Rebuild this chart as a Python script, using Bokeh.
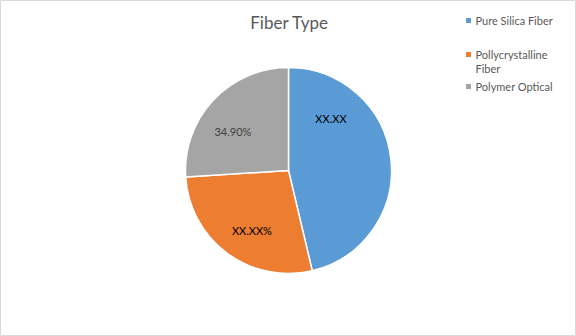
import numpy as np
from bokeh.plotting import figure
from bokeh.models import Range1d, ColumnDataSource
from bokeh.core.properties import value
from bokeh.embed import file_html
from bokeh.resources import INLINE

# ---- data ----
title_text = "Fiber Type"
categories = ["Pure Silica Fiber", "Pollycrystalline\nFiber", "Polymer Optical"]
shares = [46.3, 27.7, 26.0]
slice_labels = ["XX.XX", "XX.XX%", "34.90%"]
colors = ["#5B9BD5", "#ED7D31", "#A5A5A5"]
label_colors = ["#000000", "#000000", "#404040"]

# ---- layout ----
W, H = 576, 336
cx, cy_img, R = 288, 170, 103
label_r = [0.65, 0.68, 0.66]
label_shift_deg = [-44, -5, -8]
legend_rows_y = [20, 54, 86]
legend_marker_x, legend_text_x = 468, 475
FONT = "Lato"

def Y(y_img):
    return H - y_img

p = figure(width=W, height=H, output_backend="svg", toolbar_location=None,
           x_range=Range1d(0, W), y_range=Range1d(0, H), min_border=0)
p.axis.visible = False
p.grid.visible = False
p.outline_line_color = "#D9D9D9"
p.outline_line_width = 1
p.background_fill_color = "white"
p.border_fill_color = "white"

vals = np.array(shares, dtype=float)
frac = vals / vals.sum()
cum = np.concatenate([[0], np.cumsum(frac)])
# clockwise from 12 o'clock
start = np.pi / 2 - 2 * np.pi * cum[:-1]
end = np.pi / 2 - 2 * np.pi * cum[1:]

src = ColumnDataSource(dict(start=start, end=end, color=colors, cat=categories))
p.wedge(x=cx, y=Y(cy_img), radius=R, start_angle="start", end_angle="end",
        direction="clock", fill_color="color", line_color="white",
        line_width=1.5, source=src)

mid = np.pi / 2 - 2 * np.pi * (cum[:-1] + cum[1:]) / 2
lab_ang = mid - np.radians(label_shift_deg)
lx = cx + np.array(label_r) * R * np.cos(lab_ang)
ly = Y(cy_img) + np.array(label_r) * R * np.sin(lab_ang)
p.text(x=lx, y=ly, text=slice_labels, text_color=label_colors,
       text_align="center", text_baseline="middle",
       text_font=value(FONT), text_font_size="11px")

# title
p.text(x=[W / 2 + 1], y=[Y(22)], text=[title_text], text_color="#595959",
       text_align="center", text_baseline="middle",
       text_font=value(FONT), text_font_size="17px")

# legend
ly_leg = [Y(v) for v in legend_rows_y]
p.scatter(x=[legend_marker_x] * len(categories), y=ly_leg, marker="square",
          size=5, fill_color=colors, line_color=None)
p.text(x=[legend_text_x] * len(categories), y=[v + 7 for v in ly_leg],
       text=categories, text_color="#595959", text_align="left",
       text_baseline="top", text_font=value(FONT), text_font_size="11px",
       text_line_height=1.1)

open("out.html", "w").write(file_html(p, INLINE))
